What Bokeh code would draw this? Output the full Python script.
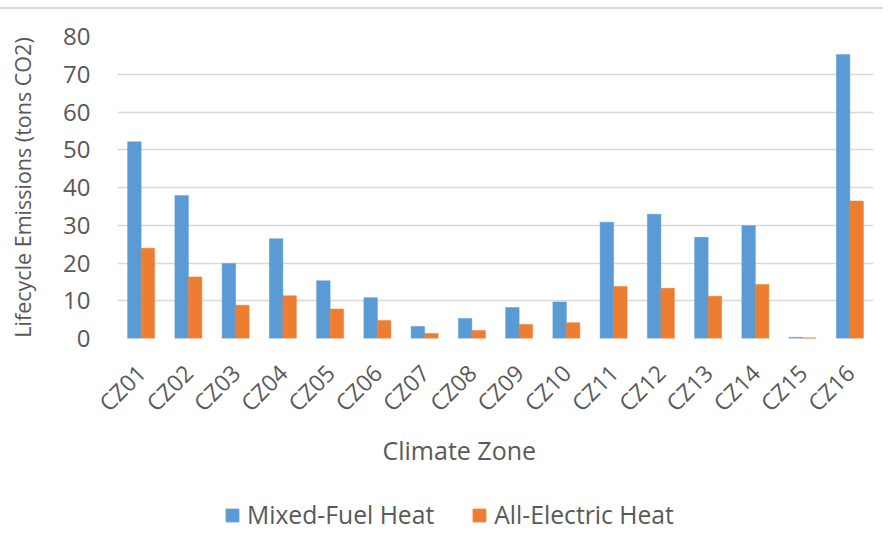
from bokeh.plotting import figure
from bokeh.layouts import column
from bokeh.models import (ColumnDataSource, FactorRange, Range1d, Legend, LegendItem,
                          SingleIntervalTicker, Title, Div, Spacer)
from bokeh.transform import dodge
from bokeh.embed import file_html
from bokeh.resources import INLINE
import math

zones = ["CZ01", "CZ02", "CZ03", "CZ04", "CZ05", "CZ06", "CZ07", "CZ08",
         "CZ09", "CZ10", "CZ11", "CZ12", "CZ13", "CZ14", "CZ15", "CZ16"]
mixed_fuel = [52.1, 37.9, 19.9, 26.4, 15.3, 10.8, 3.2, 5.3, 8.2, 9.7,
              30.8, 32.9, 26.8, 29.9, 0.3, 75.2]
all_electric = [23.9, 16.3, 8.8, 11.3, 7.8, 4.8, 1.3, 2.1, 3.7, 4.2,
                13.8, 13.3, 11.2, 14.3, 0.2, 36.4]
series_names = ["Mixed-Fuel Heat", "All-Electric Heat"]

BLUE = "#5B9BD5"
ORANGE = "#ED7D31"
TXT = "#595959"
BORDER = "#D9D9D9"
FONT = "Open Sans"

src = ColumnDataSource(dict(zone=zones, mixed=mixed_fuel, elec=all_electric))

W = 883
H0, H1, H2 = 9, 471, 60

# chart-area border line at the top
gap = Spacer(width=W, height=7)
topline = Div(text="", width=W, height=2,
              styles={"background-color": BORDER, "margin": "0", "padding": "0"})

p = figure(width=W, height=H1, x_range=FactorRange(*zones, range_padding=0),
           y_range=Range1d(0, 80), output_backend="svg", toolbar_location=None,
           min_border_left=117, min_border_right=10, min_border_top=36 - H0,
           min_border_bottom=H1 - (338 - H0))

bw = 1 / 3.5
p.vbar(x=dodge("zone", -bw / 2, range=p.x_range), top="mixed", width=bw,
       source=src, fill_color=BLUE, line_color=BLUE, line_width=0.5)
p.vbar(x=dodge("zone", bw / 2, range=p.x_range), top="elec", width=bw,
       source=src, fill_color=ORANGE, line_color=ORANGE, line_width=0.5)

p.outline_line_color = None
p.xgrid.grid_line_color = None
p.ygrid.grid_line_color = BORDER
p.ygrid.grid_line_width = 1.5
p.ygrid.level = "underlay"

p.yaxis.ticker = SingleIntervalTicker(interval=10)
p.yaxis.axis_line_color = None
p.yaxis.major_tick_line_color = None
p.yaxis.minor_tick_line_color = None
p.yaxis.major_label_standoff = 21
p.yaxis.major_label_text_font = FONT
p.yaxis.major_label_text_font_size = "24px"
p.yaxis.major_label_text_color = TXT
p.yaxis.axis_label = "Lifecycle Emissions (tons CO2)"
p.yaxis.axis_label_text_font = FONT
p.yaxis.axis_label_text_font_size = "21.5px"
p.yaxis.axis_label_text_font_style = "normal"
p.yaxis.axis_label_text_color = TXT
p.yaxis.axis_label_standoff = 23

p.xaxis.axis_line_color = None
p.xaxis.major_tick_line_color = None
p.xaxis.minor_tick_line_color = None
p.xaxis.major_label_orientation = math.pi / 4
p.xaxis.major_label_standoff = 24
p.xaxis.major_label_text_font = FONT
p.xaxis.major_label_text_font_size = "23px"
p.xaxis.major_label_text_color = TXT

xtitle = Title(text="Climate Zone", align="left", offset=265, standoff=0,
               vertical_align="top",
               text_font=FONT, text_font_size="25px", text_font_style="normal",
               text_color=TXT, text_line_height=0.9)
p.add_layout(xtitle, "below")

# legend strip
q = figure(width=W, height=H2, x_range=Range1d(0, 1), y_range=Range1d(0, 1),
           output_backend="svg", toolbar_location=None,
           min_border_left=0, min_border_right=0, min_border_top=0, min_border_bottom=0)
q.axis.visible = False
q.grid.visible = False
q.outline_line_color = None
lr1 = q.vbar(x=[0], top=[0], width=0, fill_color=BLUE, line_color=BLUE)
lr2 = q.vbar(x=[0], top=[0], width=0, fill_color=ORANGE, line_color=ORANGE)
legend = Legend(items=[LegendItem(label=series_names[0], renderers=[lr1]),
                       LegendItem(label=series_names[1], renderers=[lr2])],
                orientation="horizontal", location=(107, 9),
                glyph_width=16, glyph_height=16, label_standoff=7, spacing=37,
                padding=0, margin=0, border_line_color=None,
                background_fill_alpha=0, label_text_font=FONT,
                label_text_font_size="24.7px", label_text_color=TXT)
q.add_layout(legend, "center")

layout = column(gap, topline, p, q, spacing=0)
open("out.html", "w").write(file_html(layout, INLINE))
